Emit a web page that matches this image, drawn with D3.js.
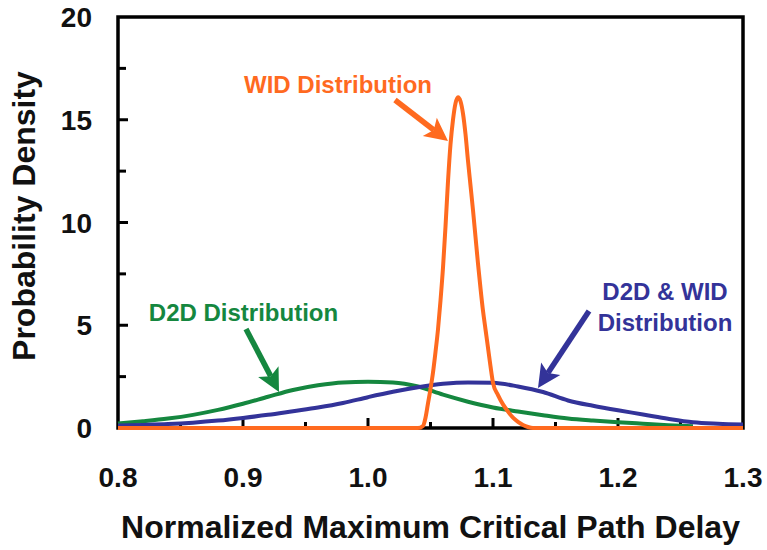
<!DOCTYPE html>
<html>
<head>
<meta charset="utf-8">
<script src="https://cdn.jsdelivr.net/npm/d3@7"></script>
<style>
  html, body { margin: 0; padding: 0; background: #fff; }
  svg { display: block; font-family: "Liberation Sans", Arial, Helvetica, sans-serif; font-weight: bold; }
</style>
</head>
<body>
<svg id="chart" width="767" height="550"></svg>
<script>
// ---- Data ----
const xTickValues = [0.8, 0.9, 1.0, 1.1, 1.2, 1.3];
const xTickLabels = ["0.8", "0.9", "1.0", "1.1", "1.2", "1.3"];
const xMinorTicks = [0.85, 0.95, 1.05, 1.15, 1.25];
const yTickValues = [0, 5, 10, 15, 20];
const yTickLabels = ["0", "5", "10", "15", "20"];
const yMinorTicks = [2.5, 7.5, 12.5, 17.5];

// D2D distribution (green)
const d2dX = [0.80,0.82,0.84,0.86,0.88,0.90,0.92,0.94,0.96,0.98,1.00,1.02,1.04,1.06,1.08,1.10,1.12,1.14,1.16,1.18,1.20,1.22,1.24,1.26];
const d2dY = [0.22,0.33,0.46,0.64,0.88,1.18,1.52,1.85,2.08,2.22,2.25,2.22,2.02,1.62,1.28,1.00,0.80,0.62,0.46,0.36,0.28,0.21,0.14,0.09];

// D2D & WID distribution (blue)
const bothX = [0.80,0.82,0.84,0.86,0.88,0.90,0.92,0.94,0.96,0.98,1.00,1.02,1.04,1.06,1.08,1.10,1.12,1.14,1.16,1.18,1.20,1.22,1.24,1.26,1.28,1.30];
const bothY = [0.12,0.15,0.19,0.26,0.36,0.49,0.64,0.82,1.00,1.22,1.50,1.76,1.98,2.15,2.22,2.20,2.02,1.75,1.34,1.08,0.86,0.66,0.45,0.28,0.21,0.17];

// WID distribution (orange)
const widX = [0.80,1.040,1.044,1.046,1.048,1.050,1.052,1.054,1.056,1.058,1.060,1.062,1.064,1.066,1.068,1.070,1.072,1.074,1.076,1.078,1.080,1.082,1.084,1.086,1.088,1.090,1.092,1.094,1.096,1.098,1.100,1.104,1.108,1.112,1.116,1.120,1.124,1.128,1.132,1.30];
const widY = [0,0,0.1,0.5,1.2,1.9,2.7,3.7,4.8,6.2,7.8,9.8,12.0,13.8,15.0,15.8,16.1,15.9,15.3,14.3,13.0,11.8,10.6,9.3,8.0,6.8,5.7,4.8,3.9,3.0,2.2,1.6,1.15,0.8,0.5,0.3,0.15,0.05,0,0];

// Annotation texts and arrows (data units)
const annotations = [
  { lines: ["WID Distribution"], x: 0.976, y: 16.3, color: "#FF6A1F",
    arrow: { x1: 1.0216, y1: 15.96, x2: 1.064, y2: 13.97 } },
  { lines: ["D2D Distribution"], x: 0.9004, y: 5.22, color: "#15873F",
    arrow: { x1: 0.9024, y1: 4.82, x2: 0.9288, y2: 1.75 } },
  { lines: ["D2D & WID", "Distribution"], x: 1.2376, y: 6.23, color: "#333399",
    arrow: { x1: 1.1768, y1: 5.69, x2: 1.136, y2: 1.95 } }
];

// ---- Layout ----
const mLeft = 118, mRight = 743, mTop = 17, mBottom = 428;
const svg = d3.select("#chart");
const x = d3.scaleLinear().domain([0.8, 1.3]).range([mLeft, mRight]);
const y = d3.scaleLinear().domain([0, 20]).range([mBottom, mTop]);

// ---- Frame ----
svg.append("rect")
  .attr("x", mLeft).attr("y", mTop)
  .attr("width", mRight - mLeft).attr("height", mBottom - mTop)
  .attr("fill", "none").attr("stroke", "#000").attr("stroke-width", 3.5);

// ---- Ticks (inward) ----
const tickG = svg.append("g").attr("stroke", "#000").attr("stroke-width", 3);
tickG.selectAll(".xmaj").data(xTickValues.slice(1, -1)).join("line")
  .attr("x1", d => x(d)).attr("x2", d => x(d))
  .attr("y1", mBottom).attr("y2", mBottom - 10);
tickG.selectAll(".xmin").data(xMinorTicks).join("line")
  .attr("x1", d => x(d)).attr("x2", d => x(d))
  .attr("y1", mBottom).attr("y2", mBottom - 6);
tickG.selectAll(".ymaj").data(yTickValues.slice(1, -1)).join("line")
  .attr("x1", mLeft).attr("x2", mLeft + 10)
  .attr("y1", d => y(d)).attr("y2", d => y(d));
tickG.selectAll(".ymin").data(yMinorTicks).join("line")
  .attr("x1", mLeft).attr("x2", mLeft + 8)
  .attr("y1", d => y(d)).attr("y2", d => y(d));

// ---- Tick labels ----
svg.append("g").selectAll("text").data(xTickValues).join("text")
  .attr("x", d => x(d)).attr("y", 487)
  .attr("text-anchor", "middle").attr("font-size", 28).attr("fill", "#111")
  .text((d, i) => xTickLabels[i]);
svg.append("g").selectAll("text").data(yTickValues).join("text")
  .attr("x", 92).attr("y", d => y(d))
  .attr("dy", "0.36em")
  .attr("text-anchor", "end").attr("font-size", 28).attr("fill", "#111")
  .text((d, i) => yTickLabels[i]);

// ---- Axis titles ----
svg.append("text")
  .attr("x", (mLeft + mRight) / 2).attr("y", 538)
  .attr("text-anchor", "middle").attr("font-size", 32).attr("fill", "#111")
  .text("Normalized Maximum Critical Path Delay");
svg.append("text")
  .attr("transform", "translate(35,216) rotate(-90)")
  .attr("text-anchor", "middle").attr("font-size", 32).attr("fill", "#111")
  .text("Probability Density");

// ---- Curves ----
const line = d3.line().x(d => x(d[0])).y(d => y(d[1])).curve(d3.curveMonotoneX);
const series = [
  { xs: d2dX, ys: d2dY, color: "#15873F" },
  { xs: bothX, ys: bothY, color: "#333399" },
  { xs: widX, ys: widY, color: "#FF6A1F" }
];
svg.append("g").selectAll("path").data(series).join("path")
  .attr("d", s => line(s.xs.map((v, i) => [v, s.ys[i]])))
  .attr("fill", "none").attr("stroke", s => s.color)
  .attr("stroke-width", 4).attr("stroke-linejoin", "round");

// ---- Annotations ----
annotations.forEach(a => {
  const t = svg.append("text")
    .attr("x", x(a.x)).attr("y", y(a.y))
    .attr("text-anchor", "middle").attr("font-size", 24).attr("fill", a.color);
  a.lines.forEach((l, i) => {
    t.append("tspan").attr("x", x(a.x)).attr("dy", i === 0 ? 0 : 31).text(l);
  });
  const x1 = x(a.arrow.x1), y1 = y(a.arrow.y1), x2 = x(a.arrow.x2), y2 = y(a.arrow.y2);
  const dx = x2 - x1, dy = y2 - y1, len = Math.hypot(dx, dy);
  const ux = dx / len, uy = dy / len, px = -uy, py = ux;
  const hl = 23, hw = 11.5;
  const bx = x2 - ux * hl, by = y2 - uy * hl;
  const nx = x2 - ux * hl * 0.78, ny = y2 - uy * hl * 0.78;
  svg.append("line")
    .attr("x1", x1).attr("y1", y1).attr("x2", nx).attr("y2", ny)
    .attr("stroke", a.color).attr("stroke-width", 5.5);
  svg.append("path")
    .attr("d", `M${x2},${y2}L${bx + px * hw},${by + py * hw}L${nx},${ny}L${bx - px * hw},${by - py * hw}Z`)
    .attr("fill", a.color);
});
</script>
</body>
</html>
